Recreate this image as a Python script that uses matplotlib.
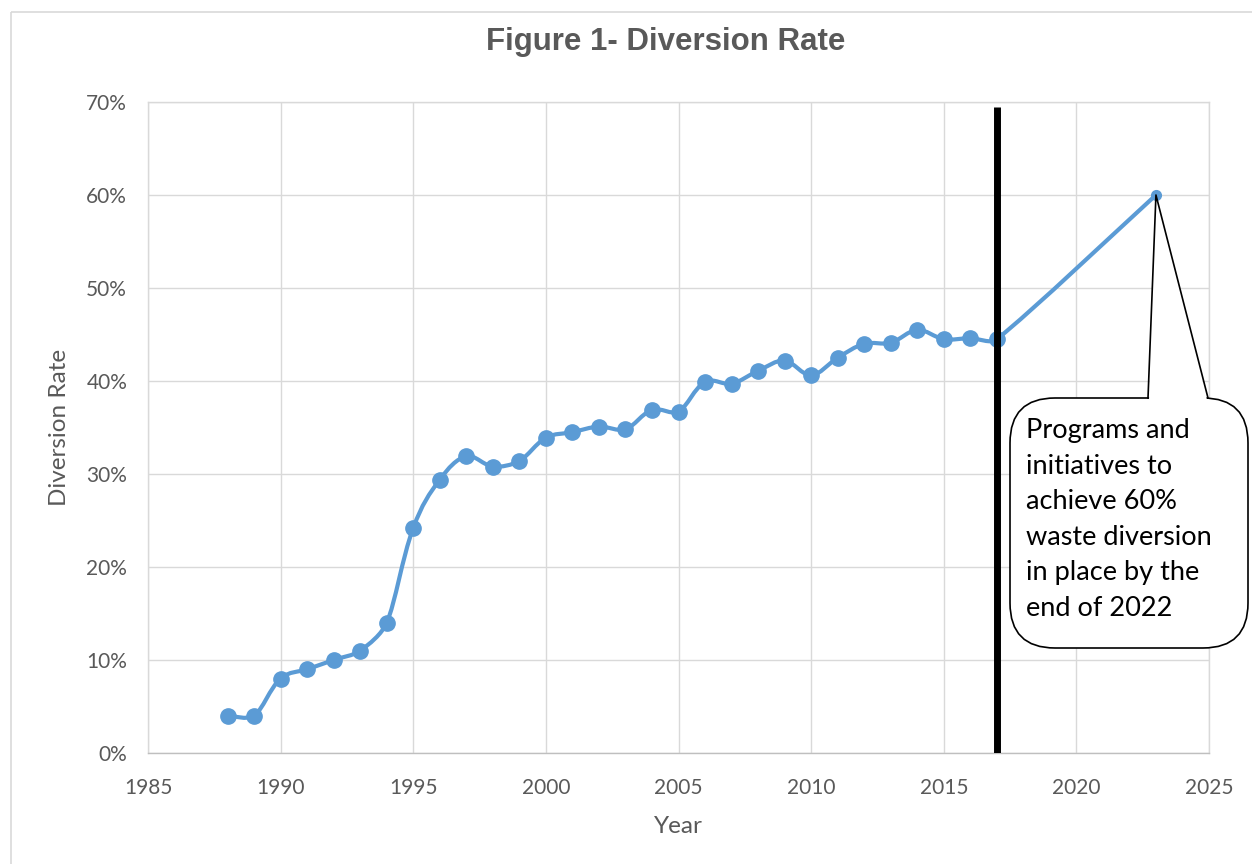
import numpy as np
import matplotlib
matplotlib.use("Agg")
import matplotlib.pyplot as plt
from matplotlib.path import Path
from matplotlib.patches import PathPatch, FancyBboxPatch, Polygon, Rectangle
from matplotlib.transforms import Affine2D
from matplotlib.ticker import FuncFormatter

# diversion rate by year (%)
years = [1988, 1989, 1990, 1991, 1992, 1993, 1994, 1995, 1996, 1997,
         1998, 1999, 2000, 2001, 2002, 2003, 2004, 2005, 2006, 2007,
         2008, 2009, 2010, 2011, 2012, 2013, 2014, 2015, 2016, 2017, 2023]
rate = [4.0, 4.0, 8.0, 9.0, 10.0, 11.0, 14.0, 24.2, 29.4, 31.9,
        30.8, 31.4, 33.9, 34.5, 35.1, 34.8, 36.9, 36.7, 39.9, 39.7,
        41.1, 42.2, 40.6, 42.5, 44.0, 44.1, 45.5, 44.5, 44.6, 44.5, 60.0]

target_year = 2023
policy_year = 2017
note = ("Programs and\ninitiatives to\nachieve 60%\n"
        "waste diversion\nin place by the\nend of 2022")

W, H = 1252, 864
GRAY = "#595959"
GRID = "#d9d9d9"
BLUE = "#5b9bd5"

fig = plt.figure(figsize=(W / 100, H / 100), dpi=100)
ax = fig.add_axes([148 / W, 1 - 753 / H, (1209 - 148) / W, (753 - 102) / H])
ax.set_xlim(1985, 2025)
ax.set_ylim(0, 70)


def smooth_path(xs, ys, sx, sy):
    # smoothed line: cubic bezier through every point; the incoming
    # handle is shortened when the next segment is much longer
    pts = np.column_stack([xs, ys]).astype(float)
    scr = pts * [sx, sy]
    n = len(pts)
    verts = [pts[0]]
    codes = [Path.MOVETO]
    for i in range(n - 1):
        a = max(i - 1, 0)
        d = min(i + 2, n - 1)
        d12 = np.hypot(*(scr[i + 1] - scr[i]))
        d23 = np.hypot(*(scr[d] - scr[i + 1]))
        w2 = d12 / (d12 + d23) if i + 2 < n else 0.5
        c1 = pts[i] + (pts[i + 1] - pts[a]) / 6
        c2 = pts[i + 1] - (pts[d] - pts[i]) * w2 / 3
        verts += [c1, c2, pts[i + 1]]
        codes += [Path.CURVE4] * 3
    return Path(verts, codes)


sx = (1209 - 148) / 40
sy = (753 - 102) / 70
ax.add_patch(PathPatch(smooth_path(years, rate, sx, sy), facecolor="none",
                       edgecolor=BLUE, lw=3, capstyle="round", zorder=3))
ax.plot(years[:-1], rate[:-1], "o", color=BLUE, ms=11, zorder=4)
ax.plot(years[-1:], rate[-1:], "o", color=BLUE, ms=7, zorder=4)

ax.plot([policy_year, policy_year], [0, 69.5], color="black", lw=5,
        solid_capstyle="butt", zorder=5)

ax.set_xticks(range(1985, 2026, 5))
ax.set_yticks(range(0, 71, 10))
ax.yaxis.set_major_formatter(FuncFormatter(lambda v, p: f"{v:.0f}%"))
ax.grid(True, color=GRID, lw=1.0)
ax.set_axisbelow(True)
for s in ax.spines.values():
    s.set_color(GRID)
    s.set_linewidth(1.0)
ax.spines["bottom"].set_color("#bfbfbf")
ax.tick_params(length=0, labelsize=15, labelcolor=GRAY, pad=15)
ax.tick_params(axis="x", pad=18)
for lab in ax.get_xticklabels() + ax.get_yticklabels():
    lab.set_family("Lato")

ax.set_xlabel("Year", fontsize=17.5, color=GRAY, family="Lato", labelpad=13)
ax.set_ylabel("Diversion Rate", fontsize=17.5, color=GRAY, family="Lato", labelpad=12)
fig.text(666 / W, 1 - 42 / H, "Figure 1- Diversion Rate", ha="center", va="center",
         fontsize=22.5, fontweight="bold", color=GRAY, family="Liberation Sans")

# chart border (image coordinates, y from top)
px = Affine2D().scale(1, -1).translate(0, H) + Affine2D().scale(1 / 100) + fig.dpi_scale_trans
fig.add_artist(Rectangle((11, 12), 1400, 1000, transform=px, fill=False,
                         edgecolor=GRID, lw=1.2))

# callout with pointer to the 2023 target
bx0, bx1, by0, by1 = 1010, 1248, 398, 648
fig.add_artist(FancyBboxPatch((bx0, by0), bx1 - bx0, by1 - by0,
                              boxstyle="round,pad=0,rounding_size=45",
                              transform=px, facecolor="white",
                              edgecolor="black", lw=1.2, zorder=6))
tip = ax.transData.transform((target_year, rate[-1]))
tip = (tip[0], H - tip[1])
base = [(1148, by0), (1208, by0)]
fig.add_artist(Polygon([(base[0][0] + 1, by0 + 2), tip, (base[1][0] - 1, by0 + 2)],
                       closed=True, transform=px, facecolor="white",
                       edgecolor="none", zorder=7))
fig.add_artist(plt.Line2D([base[0][0], tip[0], base[1][0]], [by0, tip[1], by0],
                          transform=px, color="black", lw=1.2, zorder=8))
fig.text(1026 / W, 1 - 418 / H, note, ha="left", va="top", fontsize=19.5,
         family="Lato", color="black", linespacing=1.53, zorder=9)

fig.savefig("out.png", dpi=100)
